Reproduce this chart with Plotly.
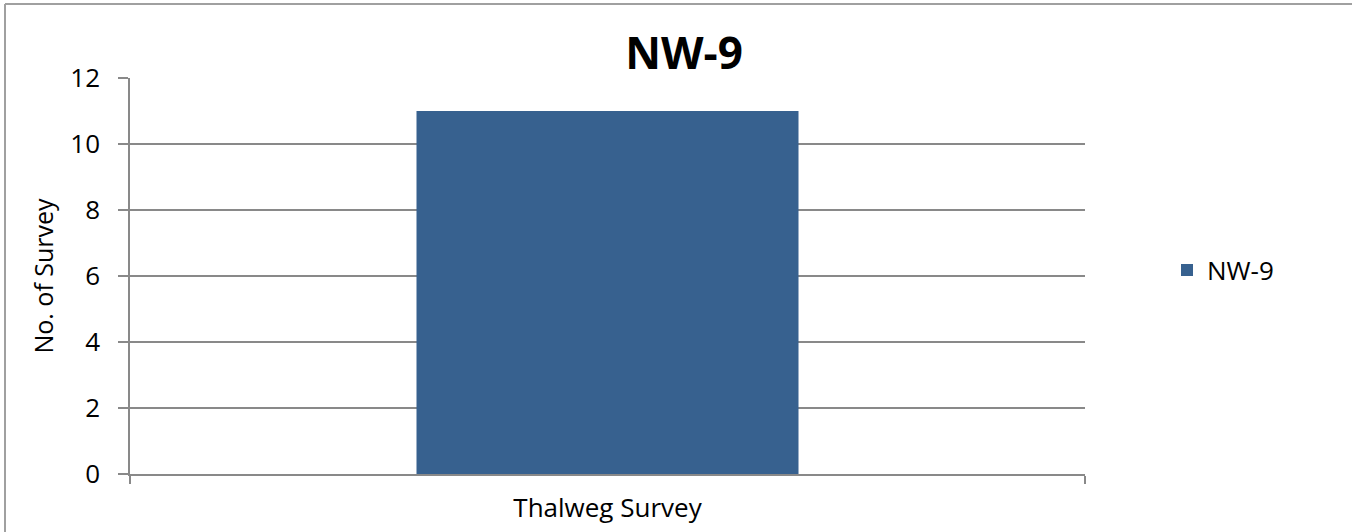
import plotly.graph_objects as go

categories = ["Thalweg Survey"]
values = [11]
series_name = "NW-9"
y_ticks = [0, 2, 4, 6, 8, 10, 12]

W, H = 1352, 532
L, R, T, B = 130, 1085, 78, 474

fig = go.Figure()
fig.add_trace(go.Bar(
    x=categories, y=values, name=series_name,
    marker=dict(color="#37618f", line=dict(width=0)),
    width=0.4, showlegend=True,
))

def px_x(p):
    return (p - L) / (R - L)

def px_y(p):
    return (B - p) / (B - T)

FONT = "Open Sans"
grid = "#898989"

fig.update_layout(
    width=W, height=H,
    margin=dict(l=L, r=W - R, t=T, b=H - B, autoexpand=False),
    paper_bgcolor="white", plot_bgcolor="white",
    font=dict(family=FONT, size=26, color="black"),
    title=dict(text="<b>NW-9</b>", font=dict(family=FONT, size=44, color="black"),
               x=684 / W, xref="container", xanchor="center",
               y=(H - 54) / H, yref="container", yanchor="middle"),
    showlegend=True,
    legend=dict(x=px_x(1167), y=px_y(270), xanchor="left", yanchor="middle",
                font=dict(family=FONT, size=26, color="black"),
                bgcolor="rgba(0,0,0,0)"),
    bargap=0.6,
    xaxis=dict(
        type="category", showgrid=False, showline=True, linecolor=grid, linewidth=1.5,
        ticks="outside", tickson="boundaries", ticklen=8, tickcolor=grid, tickwidth=1.5,
        ticklabelstandoff=10,
        tickfont=dict(family=FONT, size=26, color="black"), fixedrange=True,
    ),
    yaxis=dict(
        range=[0, 12], tickvals=y_ticks, showgrid=True, gridcolor=grid, gridwidth=1.5,
        showline=True, linecolor=grid, linewidth=1.5,
        ticks="outside", ticklen=10, tickcolor=grid, tickwidth=1.5,
        ticklabelstandoff=13,
        tickfont=dict(family=FONT, size=26, color="black"),
        title=dict(text="No. of Survey", font=dict(family=FONT, size=25, color="black"), standoff=10),
        zeroline=False, fixedrange=True,
    ),
    shapes=[
        dict(type="line", xref="paper", yref="paper", x0=px_x(5), x1=px_x(1360), y0=px_y(4), y1=px_y(4),
             line=dict(color="#a0a0a0", width=2)),
        dict(type="line", xref="paper", yref="paper", x0=px_x(5), x1=px_x(5), y0=px_y(4), y1=px_y(540),
             line=dict(color="#a0a0a0", width=2)),
    ],
)

fig.write_html("out.html", config={"displayModeBar": False},
               post_script="document.body.style.margin='0';document.body.style.overflow='hidden';")
